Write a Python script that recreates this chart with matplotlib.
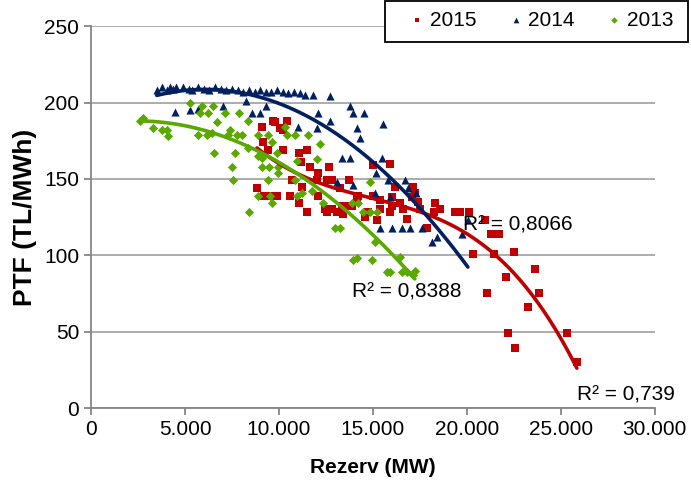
import numpy as np
import matplotlib
matplotlib.use("Agg")
import matplotlib.pyplot as plt
from matplotlib.patches import Rectangle
from matplotlib.ticker import FuncFormatter, MultipleLocator

plt.rcParams['font.family'] = ['Liberation Sans', 'DejaVu Sans']

# 2015 - kırmızı kareler (Rezerv MW, PTF TL/MWh)
x_2015 = [8830, 9100, 9150, 9200, 9410, 9520, 9680, 9790, 9890, 10050, 10210, 10210,
          10420, 10590, 10690, 11060, 11060, 11170, 11220, 11490, 11490, 11650, 12020,
          12070, 12070, 12450, 12550, 12550, 12660, 12820, 12820, 13090, 13250, 13350,
          13400, 13620, 13720, 13880, 14150, 14200, 14570, 14730, 15000, 15000, 15210,
          15370, 15370, 15900, 15900, 16010, 16010, 16170, 16440, 16600, 16790, 17070,
          17130, 17230, 17390, 17500, 17870, 18240, 18300, 18560, 19360, 19630, 20100,
          20320, 20960, 21280, 21440, 21700, 22070, 22500, 21060, 23240, 23620, 23830,
          22180, 22550, 25320, 25850]
y_2015 = [144, 184, 174, 139, 169, 139, 188, 187, 139, 183, 182, 169,
          188, 139, 149, 167, 134, 161, 145, 169, 128, 158, 149,
          154, 139, 130, 149, 128, 158, 130, 149, 128, 144, 132,
          127, 132, 149, 132, 137, 139, 125, 128, 139, 159, 123,
          130, 136, 160, 128, 138, 132, 145, 134, 130, 124, 138,
          145, 141, 135, 130, 118, 128, 134, 130, 128, 128, 128,
          101, 123, 114, 101, 114, 86, 102, 75, 66, 91, 75,
          49, 39, 49, 30]

# 2014 - lacivert üçgenler
x_2014 = [3500, 3800, 4050, 4200, 4350, 4500, 4900, 5200, 5400, 5700, 6000, 6300,
          6600, 6900, 7200, 7500, 7800, 8100, 8400, 8700, 9000, 9300, 9600, 9900,
          10200, 10500, 10800, 11100, 11400, 11800, 12700,
          4470, 5270, 5690, 7020, 8240, 8560, 8990, 9300, 11010, 12020, 12070, 12710,
          13780, 13940, 14520, 14150, 15530, 14310, 13350, 13780, 15480, 15160, 13090,
          13940, 15110, 15900, 15800, 16700, 16840, 17300, 15370, 16010, 16540, 16970,
          17600, 18400, 18140, 19730, 20050]
y_2014 = [208, 210, 208, 210, 209, 210, 210, 209, 208, 210, 209, 208,
          210, 209, 208, 209, 208, 207, 208, 207, 208, 207, 207, 208,
          207, 206, 207, 206, 205, 205, 204,
          194, 195, 196, 198, 201, 193, 193, 198, 184, 183, 193, 188,
          198, 193, 193, 183, 186, 177, 164, 164, 164, 154, 148,
          146, 141, 138, 149, 149, 144, 141, 118, 118, 118, 118,
          118, 112, 109, 114, 123]

# 2013 - yeşil karolar
x_2013 = [2600, 2770, 3300, 3780, 4040, 4100, 5270, 5800, 5900, 6220, 6490, 6700,
          7130, 7870, 8350, 5690, 6170, 6440, 7290, 7390, 7770, 8030, 8350, 8880,
          9410, 9630, 6540, 7660, 7500, 7550, 8400, 8880, 9100, 9470, 9410, 8880,
          9520, 9630, 9950, 9890, 10320, 10420, 10850, 11540, 12180, 10960, 12020,
          9100, 9950, 10850, 10960, 11220, 11760, 12340, 13880, 14200, 14470, 14840,
          15210, 14840, 12980, 13250, 13940, 14150, 14950, 15110, 15740, 15900,
          16440, 16540, 16810, 17130, 17230]
y_2013 = [188, 190, 183, 182, 182, 178, 200, 193, 198, 193, 198, 187,
          193, 193, 188, 179, 179, 180, 179, 182, 179, 179, 170, 179,
          179, 174, 167, 167, 158, 149, 128, 165, 158, 158, 149, 139,
          139, 134, 154, 167, 184, 179, 179, 179, 173, 162, 163,
          164, 158, 149, 139, 141, 142, 134, 134, 134, 128, 128,
          128, 148, 118, 118, 97, 98, 97, 109, 89, 89,
          99, 89, 89, 87, 90]

years = ['2015', '2014', '2013']
colors = ['#C00000', '#002060', '#5AA800']
markers = ['s', '^', 'D']
msizes = [26, 34, 22]
degrees = [3, 2, 2]
r2_labels = ['R² = 0,739', 'R² = 0,8066', 'R² = 0,8388']
r2_pos = [(25850, 8.5), (19790, 120), (13880, 76)]

fig = plt.figure(figsize=(6.91, 4.84), dpi=100)
ax = fig.add_axes([0.1317, 0.157, 0.816, 0.789])

data = [(x_2015, y_2015), (x_2014, y_2014), (x_2013, y_2013)]
handles = []
for (xs, ys), yr, c, m, s in zip(data, years, colors, markers, msizes):
    h = ax.scatter(xs, ys, s=s, marker=m, color=c, linewidths=0, label=yr, zorder=3)
    handles.append(h)

# trend çizgileri (polinom)
for (xs, ys), c, d in zip(data, colors, degrees):
    coef = np.polyfit(xs, ys, d)
    xx = np.linspace(min(xs), max(xs), 200)
    ax.plot(xx, np.polyval(coef, xx), color=c, lw=2.6, solid_capstyle='round', zorder=4)

for lbl, (tx, ty) in zip(r2_labels, r2_pos):
    ax.text(tx, ty, lbl, fontsize=15, va='center', ha='left', zorder=5)

ax.set_xlim(0, 30000)
ax.set_ylim(0, 250)
ax.xaxis.set_major_locator(MultipleLocator(5000))
ax.yaxis.set_major_locator(MultipleLocator(50))
ax.xaxis.set_major_formatter(FuncFormatter(lambda v, p: f'{int(v):,}'.replace(',', '.')))
ax.grid(axis='y', color='#A6A6A6', lw=1.3)
ax.set_axisbelow(True)
for sp in ['top', 'right']:
    ax.spines[sp].set_visible(False)
for sp in ['left', 'bottom']:
    ax.spines[sp].set_color('#868686')
    ax.spines[sp].set_linewidth(1.3)
ax.tick_params(colors='#868686', labelcolor='black', labelsize=15, length=5, width=1.3)

ax.set_xlabel('Rezerv (MW)', fontsize=15, fontweight='bold', labelpad=14)
ax.set_ylabel('PTF (TL/MWh)', fontsize=19, fontweight='bold', labelpad=5)

# lejant kutusu
fig.patches.append(Rectangle((385 / 691, 1 - 42 / 484), 303 / 691, 41 / 484,
                             transform=fig.transFigure, facecolor='white',
                             edgecolor='black', lw=1.3, zorder=5))
leg = fig.legend(handles=handles, labels=years, loc='center',
                 bbox_to_anchor=(542 / 691, 1 - 20 / 484),
                 ncol=3, fontsize=15, frameon=False, borderaxespad=0,
                 markerscale=0.7, handletextpad=0.3, columnspacing=1.6,
                 handlelength=0.6, borderpad=0)
leg.set_zorder(6)

fig.savefig('out.png', dpi=100)
